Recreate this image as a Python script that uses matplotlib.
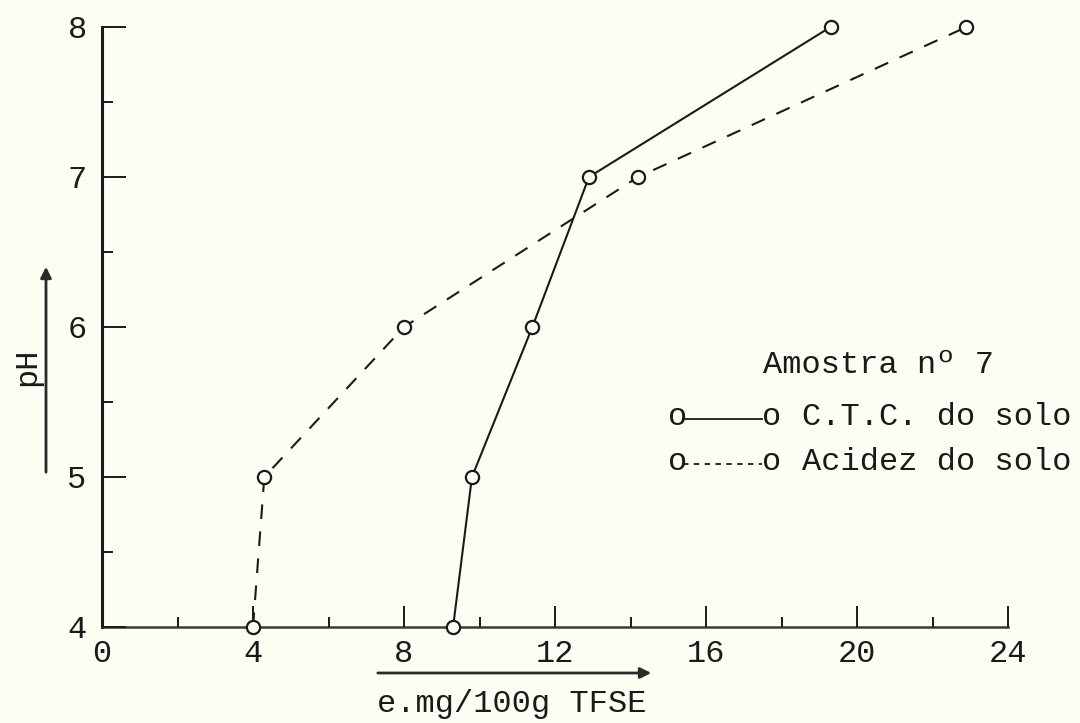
import matplotlib
matplotlib.use("Agg")
import matplotlib.pyplot as plt
from matplotlib.lines import Line2D

# ---- data ----
ph_levels = [4, 5, 6, 7, 8]
ctc_values = [9.3, 9.8, 11.4, 12.9, 19.3]        # C.T.C. do solo (solid)
acidez_values = [4.0, 4.3, 8.0, 14.2, 22.9]      # Acidez do solo (dashed)
x_ticks = [0, 4, 8, 12, 16, 20, 24]
x_minor = [2, 6, 10, 14, 18, 22]
y_ticks = [4, 5, 6, 7, 8]
y_minor = [4.5, 5.5, 6.5, 7.5]
legend_title = "Amostra nº 7"
legend_labels = ["C.T.C. do solo", "Acidez do solo"]
xlabel = "e.mg/100g TFSE"
ylabel = "pH"

W, H = 1080, 723
BG = "#fdfdf3"
INK = "#1a1a1a"
FONT = "Liberation Mono"
FS = 23

fig = plt.figure(figsize=(W / 100, H / 100), dpi=100, facecolor=BG)

def fx(px):
    return px / W

def fy(py):
    return (H - py) / H

ax = fig.add_axes([fx(102), fy(627), fx(1008) - fx(102), fy(27) - fy(627)])
ax.set_facecolor(BG)
ax.set_xlim(0, 24)
ax.set_ylim(4, 8)

for s in ["top", "right"]:
    ax.spines[s].set_visible(False)
ax.spines["left"].set_linewidth(2.2)
ax.spines["left"].set_color(INK)
ax.spines["bottom"].set_linewidth(1.8)
ax.spines["bottom"].set_color("#3a3a3a")
ax.spines["left"].set_zorder(1)
ax.spines["bottom"].set_zorder(1)

ax.set_xticks(x_ticks)
ax.set_xticklabels([str(v) for v in x_ticks], fontsize=FS, family=FONT, color=INK)
ax.set_xticks(x_minor, minor=True)
ax.set_yticks(y_ticks)
ax.set_yticklabels([str(v) for v in y_ticks], fontsize=FS, family=FONT, color=INK)
ax.set_yticks(y_minor, minor=True)

ax.tick_params(axis="x", which="major", direction="in", length=15, width=1.4,
               color=INK, pad=9)
ax.tick_params(axis="x", which="minor", direction="in", length=7, width=1.4,
               color=INK)
ax.tick_params(axis="y", which="major", direction="in", length=17, width=1.4,
               color=INK, pad=11)
ax.tick_params(axis="y", which="minor", direction="in", length=8, width=1.4,
               color=INK)

# series
ax.plot(ctc_values, ph_levels, color=INK, lw=1.5, marker="o", markersize=9.5,
        markerfacecolor=BG, markeredgecolor=INK, markeredgewidth=1.6,
        clip_on=False, zorder=3)
ax.plot(acidez_values, ph_levels, color=INK, lw=1.5, linestyle=(0, (7, 6)),
        marker="o", markersize=9.5, markerfacecolor=BG, markeredgecolor=INK,
        markeredgewidth=1.6, clip_on=False, zorder=3)

# axis labels with arrows
fig.text(fx(512), fy(704), xlabel, fontsize=FS, family=FONT, color=INK,
         ha="center", va="center")
fig.add_artist(matplotlib.patches.FancyArrowPatch(
    (fx(375), fy(673)), (fx(654), fy(673)), transform=fig.transFigure,
    arrowstyle="-|>", mutation_scale=16, lw=2, color="#2a2a2a"))
fig.text(fx(27), fy(367), ylabel, fontsize=FS, family=FONT, color=INK,
         ha="center", va="center", rotation=90)
fig.add_artist(matplotlib.patches.FancyArrowPatch(
    (fx(46), fy(475)), (fx(46), fy(264)), transform=fig.transFigure,
    arrowstyle="-|>", mutation_scale=16, lw=2, color="#2a2a2a"))

# legend (typewritten style)
fig.text(fx(763), fy(365), legend_title, fontsize=FS, family=FONT, color=INK,
         ha="left", va="center")
rows = [(417, "-"), (462, (0, (3, 3)))]
for (py, ls), lab in zip(rows, legend_labels):
    fig.add_artist(Line2D([fx(683), fx(762)], [fy(py + 2), fy(py + 2)],
                          transform=fig.transFigure, color=INK, lw=1.3,
                          linestyle=ls))
    fig.text(fx(668), fy(py), "o", fontsize=FS, family=FONT, color=INK,
             ha="left", va="center")
    fig.text(fx(762), fy(py), "o", fontsize=FS, family=FONT, color=INK,
             ha="left", va="center")
    fig.text(fx(802), fy(py), lab, fontsize=FS, family=FONT, color=INK,
             ha="left", va="center")

fig.savefig("out.png", dpi=100, facecolor=BG)
